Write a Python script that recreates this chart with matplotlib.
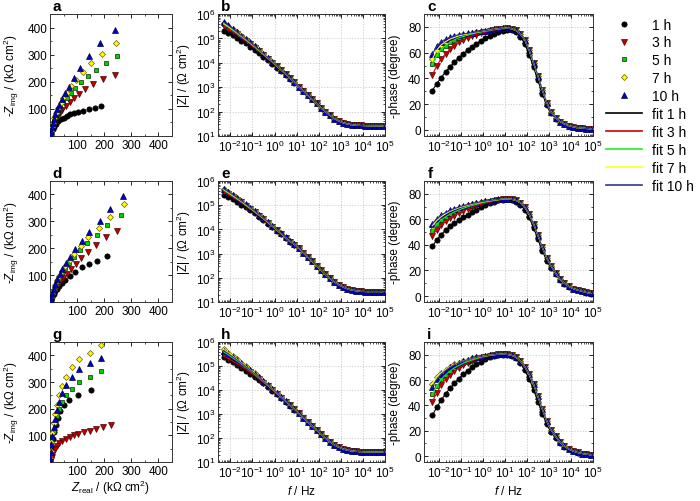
import numpy as np
import matplotlib
matplotlib.use('Agg')
import matplotlib.pyplot as plt
from matplotlib.lines import Line2D
from matplotlib import ticker

plt.rcParams['font.family'] = ['Liberation Sans', 'DejaVu Sans']
plt.rcParams['mathtext.fontset'] = 'custom'
plt.rcParams['mathtext.rm'] = 'Liberation Sans'
plt.rcParams['mathtext.it'] = 'Liberation Sans:italic'
plt.rcParams['mathtext.bf'] = 'Liberation Sans:bold'

hours = ['1 h', '3 h', '5 h', '7 h', '10 h']

# frequency points, Hz
freq = [0.005, 0.008, 0.0125, 0.02, 0.0315, 0.05, 0.08, 0.125, 0.2, 0.315, 0.5, 0.8,
        1.25, 2, 3.15, 5, 8,
        12.5, 20, 31.5, 50, 80, 125, 200, 315, 500, 800, 1250, 2000, 3150, 5000, 8000,
        12500, 20000, 31500, 50000, 80000]

# ---- Nyquist (kOhm cm2), order 1h, 3h, 5h, 7h, 10h ----
a_real = [[190, 166, 143, 122, 104, 88, 74, 61, 50, 40, 31, 23, 16, 10, 5, 2],
          [240, 196, 160, 131, 107, 88, 72, 58, 46, 36, 27, 19, 13, 8, 4, 1.5],
          [246, 205, 170, 140, 114, 93, 76, 61, 49, 38, 29, 21, 14, 9, 5, 2],
          [245, 191, 152, 120, 95, 76, 61, 49, 39, 30, 23, 16, 11, 7, 3.5, 1.5],
          [240, 184, 145, 112, 88, 70, 56, 44, 35, 27, 20, 14, 9.5, 6, 3, 1.2]]
a_imag = [[111, 104, 98, 94, 89, 85, 80, 74, 68, 62, 54, 45, 35, 24, 13, 5],
          [226, 209, 190, 172, 155, 140, 125, 111, 97, 84, 70, 56, 42, 29, 17, 7],
          [295, 268, 243, 220, 198, 178, 159, 141, 124, 107, 90, 73, 56, 40, 25, 10],
          [342, 303, 268, 236, 208, 183, 160, 139, 120, 102, 84, 66, 49, 33, 19, 8],
          [392, 344, 295, 250, 213, 182, 157, 135, 116, 98, 81, 64, 48, 33, 19, 8]]

d_real = [[209, 172, 145, 117, 92, 72, 56, 44, 34, 26, 19, 13, 8, 4.5, 2],
          [246, 205, 170, 141, 116, 95, 77, 62, 49, 38, 29, 21, 14, 8.5, 4.5, 1.8],
          [261, 211, 172, 138, 111, 89, 71, 57, 45, 35, 26, 19, 13, 8, 4, 1.6],
          [273, 221, 182, 141, 113, 90, 72, 57, 45, 35, 26, 19, 13, 8, 4, 1.6],
          [270, 221, 185, 145, 117, 93, 74, 59, 46, 36, 27, 19, 13, 8, 4, 1.6]]
d_imag = [[172, 154, 143, 129, 113, 97, 83, 71, 60, 50, 40, 30, 20, 11, 4.5],
          [264, 240, 211, 185, 162, 141, 122, 105, 89, 75, 62, 48, 35, 22, 12, 5],
          [322, 287, 248, 221, 193, 168, 146, 126, 108, 91, 75, 59, 43, 28, 15, 6],
          [365, 317, 276, 240, 208, 180, 156, 134, 115, 97, 80, 63, 46, 30, 16, 6],
          [395, 347, 301, 260, 227, 196, 169, 145, 124, 104, 86, 67, 49, 32, 17, 7]]

g_real = [[150, 105, 70, 50, 38, 29, 22, 16, 11, 7, 4, 1.5],
          [224, 195, 170, 147, 125, 105, 88, 72, 58, 45, 34, 25, 17, 11, 6, 2.5],
          [187, 147, 107, 80, 60, 46, 35, 27, 20, 14, 9, 5.5, 2.8, 1],
          [187, 147, 107, 80, 60, 46, 35, 27, 20, 14, 9, 5.5, 2.8, 1],
          [187, 147, 107, 80, 60, 46, 35, 27, 20, 14, 9, 5.5, 2.8, 1]]
g_imag = [[270, 250, 232, 212, 190, 165, 140, 113, 85, 58, 32, 12],
          [137, 130, 124, 118, 112, 106, 100, 94, 88, 80, 71, 60, 47, 33, 19, 8],
          [343, 320, 300, 275, 250, 225, 198, 172, 145, 118, 90, 62, 35, 13],
          [440, 410, 385, 355, 320, 285, 250, 215, 180, 145, 110, 75, 42, 15],
          [390, 370, 350, 320, 290, 258, 226, 194, 162, 130, 98, 67, 38, 14]]

# ---- |Z| (Ohm cm2): low-frequency part per series (0.005-8 Hz), shared high part ----
b_modz_low = [[2.1e5, 1.7e5, 1.35e5, 1.05e5, 8.1e4, 6.2e4, 4.6e4, 3.4e4, 2.45e4, 1.8e4, 1.26e4, 8.9e3, 6.3e3, 4.5e3, 3.1e3, 2.2e3, 1.5e3],
              [3.2e5, 2.5e5, 1.9e5, 1.45e5, 1.07e5, 7.9e4, 5.8e4, 4.2e4, 2.95e4, 2.1e4, 1.48e4, 1.02e4, 7.1e3, 4.9e3, 3.4e3, 2.3e3, 1.6e3],
              [3.8e5, 2.9e5, 2.2e5, 1.6e5, 1.2e5, 8.7e4, 6.3e4, 4.5e4, 3.2e4, 2.2e4, 1.55e4, 1.07e4, 7.4e3, 5.0e3, 3.5e3, 2.3e3, 1.6e3],
              [4.2e5, 3.15e5, 2.35e5, 1.75e5, 1.25e5, 9.1e4, 6.6e4, 4.7e4, 3.3e4, 2.3e4, 1.6e4, 1.1e4, 7.6e3, 5.1e3, 3.5e3, 2.3e3, 1.6e3],
              [4.6e5, 3.4e5, 2.5e5, 1.8e5, 1.3e5, 9.5e4, 6.8e4, 4.8e4, 3.4e4, 2.35e4, 1.6e4, 1.1e4, 7.6e3, 5.1e3, 3.5e3, 2.3e3, 1.6e3]]
b_modz_high = [1050, 710, 470, 315, 215, 145, 100, 71, 52, 42, 35, 31, 29, 27.5, 27, 26.5, 26.3, 26.2, 26.1, 26]

e_modz_low = [[2.7e5, 2.2e5, 1.75e5, 1.38e5, 1.07e5, 8.2e4, 6.2e4, 4.6e4, 3.4e4, 2.45e4, 1.75e4, 1.25e4, 8.8e3, 6.2e3, 4.3e3, 3.0e3, 2.2e3],
              [3.6e5, 2.8e5, 2.2e5, 1.7e5, 1.3e5, 9.5e4, 7.0e4, 5.1e4, 3.7e4, 2.65e4, 1.85e4, 1.3e4, 9.2e3, 6.4e3, 4.5e3, 3.1e3, 2.3e3],
              [4.15e5, 3.2e5, 2.45e5, 1.85e5, 1.4e5, 1.0e5, 7.4e4, 5.4e4, 3.9e4, 2.8e4, 1.95e4, 1.35e4, 9.5e3, 6.6e3, 4.6e3, 3.2e3, 2.4e3],
              [4.5e5, 3.4e5, 2.6e5, 1.95e5, 1.45e5, 1.05e5, 7.7e4, 5.6e4, 4.0e4, 2.85e4, 2.0e4, 1.4e4, 9.7e3, 6.7e3, 4.6e3, 3.2e3, 2.4e3],
              [4.8e5, 3.6e5, 2.75e5, 2.05e5, 1.5e5, 1.1e5, 7.9e4, 5.8e4, 4.1e4, 2.9e4, 2.05e4, 1.4e4, 9.8e3, 6.8e3, 4.7e3, 3.2e3, 2.4e3]]
e_modz_high = [1660, 1100, 720, 480, 316, 210, 138, 95, 69, 52, 42, 35, 31, 29, 27.5, 27, 27, 27, 27, 27]

h_modz_low = [[2.3e5, 1.85e5, 1.45e5, 1.12e5, 8.6e4, 6.5e4, 4.8e4, 3.6e4, 2.6e4, 1.9e4, 1.35e4, 9.4e3, 6.6e3, 4.6e3, 3.2e3, 2.2e3, 1.5e3],
              [2.6e5, 2.05e5, 1.6e5, 1.25e5, 9.5e4, 7.2e4, 5.4e4, 4.0e4, 2.9e4, 2.05e4, 1.45e4, 1.0e4, 7.0e3, 4.8e3, 3.3e3, 2.3e3, 1.6e3],
              [3.9e5, 2.95e5, 2.2e5, 1.65e5, 1.2e5, 8.8e4, 6.4e4, 4.6e4, 3.2e4, 2.25e4, 1.55e4, 1.07e4, 7.4e3, 5.0e3, 3.5e3, 2.3e3, 1.6e3],
              [4.9e5, 3.6e5, 2.6e5, 1.9e5, 1.4e5, 9.8e4, 6.9e4, 4.9e4, 3.4e4, 2.35e4, 1.6e4, 1.1e4, 7.6e3, 5.1e3, 3.5e3, 2.3e3, 1.6e3],
              [4.4e5, 3.3e5, 2.45e5, 1.8e5, 1.3e5, 9.4e4, 6.7e4, 4.8e4, 3.35e4, 2.3e4, 1.6e4, 1.1e4, 7.6e3, 5.1e3, 3.5e3, 2.3e3, 1.6e3]]
h_modz_high = [1050, 710, 470, 315, 215, 145, 100, 71, 52, 42, 35, 31, 29, 27.5, 27, 26.5, 26.3, 26.2, 26.1, 26]

# ---- -phase (degree): low part per series, high part shared (1 h separate) ----
c_phase_low = [[30.5, 36, 40.5, 45, 49, 52.5, 56, 59, 62, 64.5, 67, 69, 71, 73, 74.5, 76, 77],
               [42.5, 50, 55, 59, 62.5, 65.5, 68, 70, 71.5, 73, 74, 75, 76, 76.8, 77.5, 78, 78.5],
               [51, 58, 62.5, 65.5, 68, 70, 71.5, 72.5, 73.5, 74.5, 75.3, 76, 76.7, 77.3, 78, 78.5, 78.8],
               [55, 62, 66, 68.5, 70.5, 71.8, 73, 73.8, 74.5, 75.2, 75.8, 76.4, 77, 77.6, 78.1, 78.6, 78.9],
               [59, 65, 68.5, 70.5, 72, 73, 74, 74.5, 75, 75.5, 76, 76.5, 77, 77.5, 78, 78.5, 79]]
c_phase_high = [79, 78.6, 77.2, 74.5, 70, 62, 52, 42, 31, 21, 14, 9.5, 6.5, 4.6, 3.3, 2.4, 1.8, 1.4, 1.1, 0.9]
c_phase_high_1h = [77.8, 77.5, 76, 72.5, 67, 58.5, 48.5, 38.5, 28, 19, 12.8, 8.8, 6.1, 4.3, 3.1, 2.3, 1.7, 1.3, 1.0, 0.8]

f_phase_low = [[38.8, 44, 48, 51.5, 54.5, 57, 59.5, 61.5, 63.5, 65.5, 67.5, 69.5, 71, 72.5, 73.8, 74.8, 75.5],
               [46.8, 52, 55.5, 58.5, 61, 63, 65, 66.5, 68, 69.3, 70.5, 71.6, 72.6, 73.5, 74.3, 75, 75.6],
               [51, 56, 59.5, 62, 64, 65.8, 67.3, 68.6, 69.8, 70.8, 71.8, 72.7, 73.5, 74.2, 74.8, 75.3, 75.8],
               [55, 59, 62, 64.3, 66.2, 67.7, 69, 70, 71, 71.9, 72.7, 73.4, 74, 74.6, 75.1, 75.5, 75.9],
               [56.7, 60.5, 63.3, 65.3, 67, 68.4, 69.6, 70.6, 71.5, 72.3, 73, 73.6, 74.2, 74.7, 75.2, 75.6, 76]]
f_phase_high = [76, 75.7, 74.8, 73, 69.5, 64, 56.5, 47.5, 38, 29.5, 23.5, 18, 13, 10, 7.5, 5.8, 4.6, 3.7, 2.8, 2.0]
f_phase_high_1h = [75.7, 75, 73.8, 71.5, 67.5, 61.5, 53.5, 44.5, 35.5, 27.5, 22, 17, 12.5, 9.6, 7.2, 5.6, 4.5, 3.6, 2.7, 1.9]

i_phase_low = [[32, 38.5, 44, 49, 53.5, 57.5, 61, 64.5, 67.5, 70, 72.5, 74.5, 76.5, 78, 79.2, 79.8, 80],
               [42.8, 50, 56, 60.5, 64, 67, 69.5, 71.5, 73.3, 75, 76.4, 77.5, 78.5, 79.2, 79.8, 80.2, 80.3],
               [48.6, 55.5, 60.5, 64, 67, 69.5, 71.5, 73.2, 74.6, 75.9, 77, 78, 78.8, 79.4, 79.9, 80.2, 80.3],
               [57, 62, 65.5, 68.3, 70.5, 72.3, 73.8, 75, 76, 77, 77.8, 78.5, 79.1, 79.6, 80, 80.3, 80.4],
               [54.5, 60.5, 64.5, 67.5, 70, 72, 73.6, 74.9, 76, 77, 77.8, 78.5, 79.1, 79.6, 80, 80.3, 80.4]]
i_phase_high = [80.2, 79.5, 78, 75, 70.5, 64.5, 56.5, 47, 37, 27.5, 20.5, 15.5, 11, 7.8, 5.5, 3.9, 2.8, 2.0, 1.4, 1.0]
i_phase_high_1h = [79.8, 79, 77.2, 73.5, 68, 61, 52.5, 43, 33.5, 25, 19, 14.5, 10.4, 7.4, 5.3, 3.8, 2.7, 1.9, 1.4, 1.0]

# ---- styles ----
mk = [dict(marker='o', mfc='black', mec='black', ms=3.8),
      dict(marker='v', mfc='#c00000', mec='#4a0000', ms=4.0),
      dict(marker='s', mfc='#00d000', mec='#003000', ms=3.4),
      dict(marker='D', mfc='#ffff00', mec='#6a5a00', ms=3.1),
      dict(marker='^', mfc='#0000c8', mec='#000050', ms=4.0)]
fit_colors = ['black', '#d00000', '#22ee22', '#ffff22', '#333399']

fig = plt.figure(figsize=(7.0, 5.02), dpi=100)

rows = [(0.7271, 0.2430), (0.3964, 0.2410), (0.0777, 0.2390)]
cols = [(0.0714, 0.1743), (0.3114, 0.2386), (0.6057, 0.2414)]


def style_axes(ax):
    ax.tick_params(which='both', direction='in', top=True, right=True, labelsize=8.5, pad=2)
    ax.tick_params(which='major', length=3, width=0.6)
    ax.tick_params(which='minor', length=1.6, width=0.5)
    for s in ax.spines.values():
        s.set_linewidth(0.7)
        s.set_color('#333333')


def nyquist(ax, re, im, last):
    for k in range(5):
        ax.plot(re[k], im[k], ls='none', mew=0.5, zorder=2 + k, **mk[k])
    ax.set_xlim(0, 450)
    ax.set_ylim(0, 450)
    ax.set_xticks([100, 200, 300, 400])
    ax.set_yticks([100, 200, 300, 400])
    ax.xaxis.set_minor_locator(ticker.MultipleLocator(50))
    ax.yaxis.set_minor_locator(ticker.MultipleLocator(50))
    ax.set_ylabel(r'-$Z_{\mathrm{img}}$ / (k$\Omega$ cm$^2$)', fontsize=8.5)
    ax.yaxis.set_label_coords(-0.235, 0.5)
    if last:
        ax.set_xlabel(r'$Z_{\mathrm{real}}$ / (k$\Omega$ cm$^2$)', fontsize=8.5, labelpad=1)
    style_axes(ax)


def log_x(ax, left):
    ax.set_xscale('log')
    ax.set_xlim(left, 1e5)
    ax.xaxis.set_minor_locator(ticker.LogLocator(base=10, subs=np.arange(2, 10), numticks=20))
    ax.xaxis.set_minor_formatter(ticker.NullFormatter())
    ax.set_xticks([1e-2, 1e-1, 1, 10, 100, 1e3, 1e4, 1e5])


def bode_mod(ax, low, high, last):
    for k in range(5):
        z = list(low[k]) + list(high)
        ax.plot(freq, z, ls='none', mew=0.5, zorder=2 + k, **mk[k])
    for k in range(5):
        z = list(low[k]) + list(high)
        ax.plot(freq, z, '-', color=fit_colors[k], lw=0.8, zorder=8)
    ax.set_yscale('log')
    ax.set_ylim(10, 1e6)
    log_x(ax, 2.75e-3)
    ax.yaxis.set_major_locator(ticker.LogLocator(base=10, numticks=10))
    ax.grid(True, which='major', ls=(0, (2, 2)), lw=0.5, color='#c4c4c4')
    ax.set_ylabel(r'|Z| / ($\Omega$ cm$^2$)', fontsize=8.5)
    ax.yaxis.set_label_coords(-0.15, 0.5)
    if last:
        ax.set_xlabel(r'$f$ / Hz', fontsize=8.5, labelpad=3)
    style_axes(ax)


def bode_phase(ax, low, high, high_1h, last):
    for k in range(5):
        hi = high_1h if k == 0 else high
        ax.plot(freq, list(low[k]) + list(hi), ls='none', mew=0.5, zorder=2 + k, **mk[k])
    for k in range(5):
        hi = high_1h if k == 0 else high
        ax.plot(freq, list(low[k]) + list(hi), '-', color=fit_colors[k], lw=0.8, zorder=8)
    ax.set_ylim(-4.7, 90)
    log_x(ax, 2.1e-3)
    ax.set_yticks([0, 20, 40, 60, 80])
    ax.yaxis.set_minor_locator(ticker.MultipleLocator(10))
    ax.grid(True, which='major', ls=(0, (2, 2)), lw=0.5, color='#c4c4c4')
    ax.set_ylabel('-phase (degree)', fontsize=8.5)
    ax.yaxis.set_label_coords(-0.135, 0.5)
    if last:
        ax.set_xlabel(r'$f$ / Hz', fontsize=8.5, labelpad=3)
    style_axes(ax)


nyq_re = [a_real, d_real, g_real]
nyq_im = [a_imag, d_imag, g_imag]
mod_low = [b_modz_low, e_modz_low, h_modz_low]
mod_high = [b_modz_high, e_modz_high, h_modz_high]
ph_low = [c_phase_low, f_phase_low, i_phase_low]
ph_high = [c_phase_high, f_phase_high, i_phase_high]
ph_high_1h = [c_phase_high_1h, f_phase_high_1h, i_phase_high_1h]
letters = [['a', 'b', 'c'], ['d', 'e', 'f'], ['g', 'h', 'i']]

for r in range(3):
    bottom, height = rows[r]
    last = (r == 2)
    ax1 = fig.add_axes([cols[0][0], bottom, cols[0][1], height])
    nyquist(ax1, nyq_re[r], nyq_im[r], last)
    ax2 = fig.add_axes([cols[1][0], bottom, cols[1][1], height])
    bode_mod(ax2, mod_low[r], mod_high[r], last)
    ax3 = fig.add_axes([cols[2][0], bottom, cols[2][1], height])
    bode_phase(ax3, ph_low[r], ph_high[r], ph_high_1h[r], last)
    for ax, lt in zip([ax1, ax2, ax3], letters[r]):
        ax.text(0.02, 1.01, lt, transform=ax.transAxes, fontsize=11,
                fontweight='bold', ha='left', va='bottom')

handles = []
labels = []
for k in range(5):
    handles.append(Line2D([], [], ls='none', mew=0.5, **mk[k]))
    labels.append(hours[k])
for k in range(5):
    handles.append(Line2D([], [], color=fit_colors[k], lw=1.2))
    labels.append('fit ' + hours[k])
fig.legend(handles, labels, loc='upper left', bbox_to_anchor=(0.866, 0.963),
           frameon=False, fontsize=10, handlelength=2.6, handletextpad=0.7,
           labelspacing=0.28, borderpad=0, borderaxespad=0)

fig.savefig('out.png', dpi=100)
